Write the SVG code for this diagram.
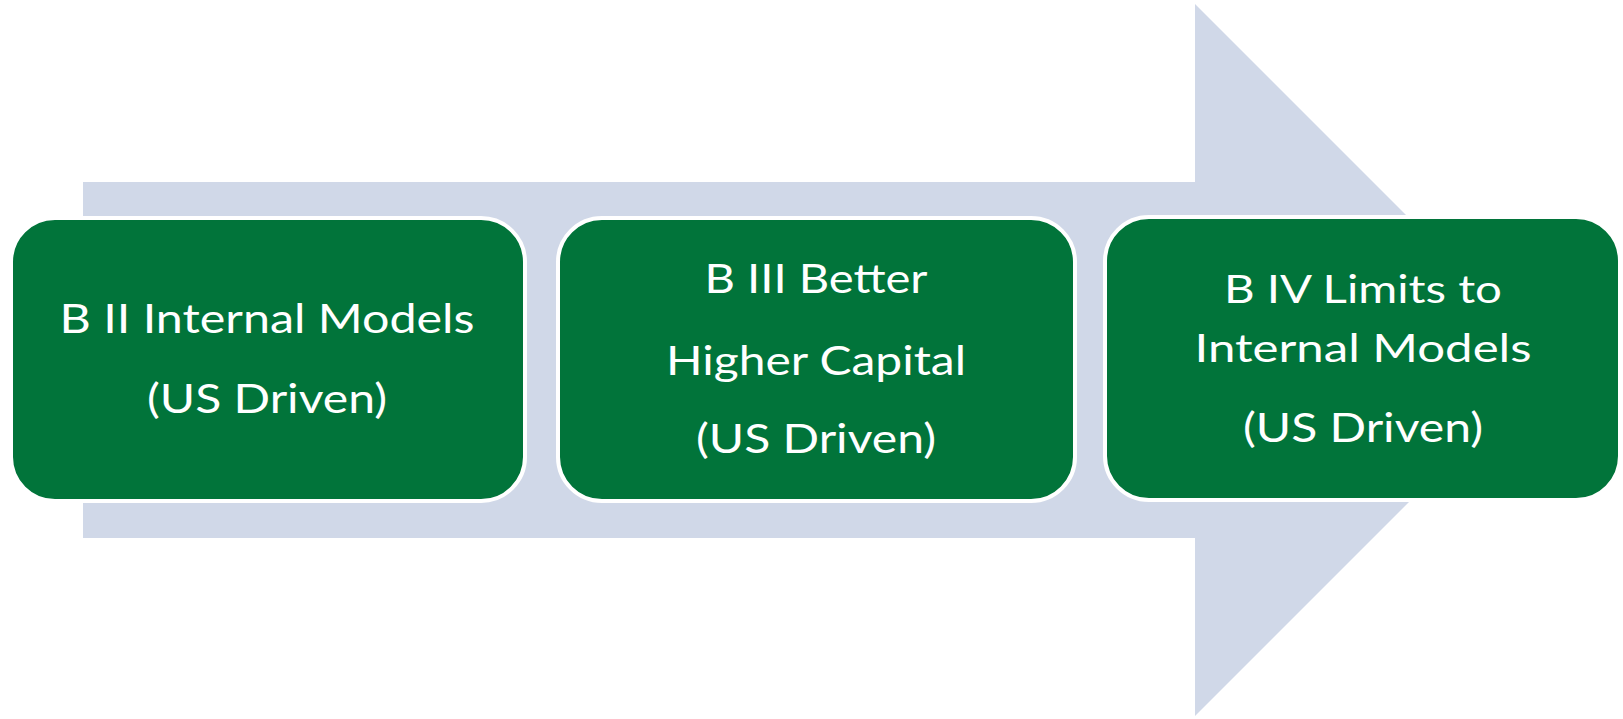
<svg xmlns="http://www.w3.org/2000/svg" width="1623" height="719" viewBox="0 0 1623 719">
<style>
.box{fill:#01743A;stroke:#ffffff;stroke-width:4}
.t{fill:#ffffff;font-family:Lato,"Open Sans","Liberation Sans",sans-serif;text-anchor:middle}
</style>
<rect width="1623" height="719" fill="#ffffff"/>
<g id="connectors">
<polygon points="83,182 1195,182 1195,4 1551,360 1195,716 1195,538 83,538" fill="#D0D8E8"/>
</g>
<g id="node1">
<rect class="box" x="11" y="218" width="514" height="283" rx="44"/>
<text class="t" x="267" y="333" font-size="41" textLength="415" lengthAdjust="spacingAndGlyphs">B II Internal Models</text>
<text class="t" x="267" y="413" font-size="41" textLength="240" lengthAdjust="spacingAndGlyphs">(US Driven)</text>
</g>
<g id="node2">
<rect class="box" x="558" y="218" width="517" height="283" rx="44"/>
<text class="t" x="816" y="293" font-size="41" textLength="223" lengthAdjust="spacingAndGlyphs">B III Better</text>
<text class="t" x="816" y="375" font-size="41" textLength="300" lengthAdjust="spacingAndGlyphs">Higher Capital</text>
<text class="t" x="816" y="453" font-size="41" textLength="240" lengthAdjust="spacingAndGlyphs">(US Driven)</text>
</g>
<g id="node3">
<rect class="box" x="1105" y="217" width="515" height="283" rx="44"/>
<text class="t" x="1363" y="303" font-size="38" textLength="278" lengthAdjust="spacingAndGlyphs">B IV Limits to</text>
<text class="t" x="1363" y="362" font-size="38" textLength="337" lengthAdjust="spacingAndGlyphs">Internal Models</text>
<text class="t" x="1363" y="442" font-size="41" textLength="240" lengthAdjust="spacingAndGlyphs">(US Driven)</text>
</g>
</svg>
